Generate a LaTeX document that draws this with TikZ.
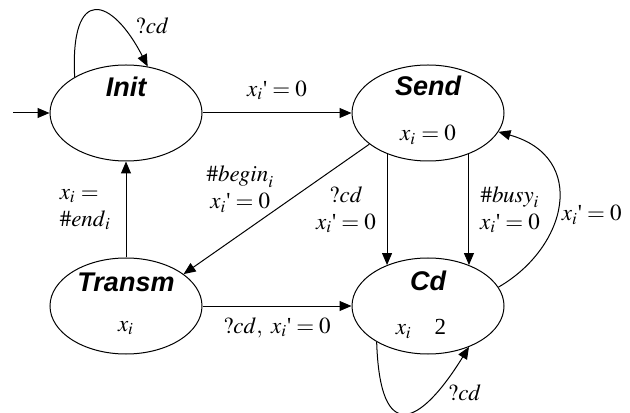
\documentclass[tikz,border=0pt]{standalone}
\usepackage{amsmath}
\usepackage{mathptmx}
\usepackage{fontspec}
\setmainfont{Liberation Serif}
\newfontfamily\locfont{Liberation Sans}
\usetikzlibrary{shapes.geometric, arrows.meta, positioning}

\newcommand{\xzero}{$x_i\text{\textquotesingle} = 0$}

\tikzset{
    loc/.style={draw, ellipse, line width=0.5pt, minimum width=76pt, minimum height=48pt, inner sep=0pt},
    locname/.style={font=\fontsize{13.5}{15}\locfont\bfseries\itshape},
    trans/.style={line width=0.5pt, -{Triangle[length=6pt, width=5pt]}},
}

\begin{document}
\begin{tikzpicture}[x=0.5pt, y=0.5pt, font=\fontsize{11.5}{13.5}\selectfont]
    \useasboundingbox (0,0) rectangle (630,412);

    % Locations
    \node[loc] (init) at (126,299) {};
    \node[loc] (send) at (428,299) {};
    \node[loc] (transm) at (126,106) {};
    \node[loc] (cd) at (428,106) {};

    % Names and invariants
    \node[locname] (init-name) at (126,325) {Init};
    \node[locname] (send-name) at (428,326) {Send};
    \node (send-inv) at (428,277) {$x_i = 0$};
    \node[locname] (transm-name) at (126,130) {Transm};
    \node (transm-inv) at (126,84) {$x_i$};
    \node[locname] (cd-name) at (428,131) {Cd};
    \node (cd-inv) at (421,83) {$x_i$\quad 2};

    % Transitions
    \coordinate (start) at (13,299);
    \draw[trans] (start) -- (init);
    \draw[trans] (init.145) .. controls (70,428) and (112,415) .. node[pos=0.75, right=4pt]{$?cd$} (init.65);
    \draw[trans] (init) -- node[above=3pt]{\xzero} (send);
    \draw[trans] (transm) -- node[left=4pt, align=left]{$x_i =$\\$\#\mathit{end}_i$} (init);
    \draw[trans] (send.208) -- node[left, inner sep=1pt, yshift=10pt, align=center]{$\#\mathit{begin}_i$\\\xzero} (transm.29);
    \draw[trans] (send.225) -- node[left=2pt, align=center]{$?cd$\\\xzero} (cd.135);
    \draw[trans] (send.315) -- node[right=2pt, align=center]{$\#\mathit{busy}_i$\\\xzero} (cd.45);
    \draw[trans] (cd.15) .. controls (568,165) and (588,255) .. node[pos=0.44, right, inner sep=2.5pt]{\xzero} (send.345);
    \draw[trans] (transm) -- node[below=2pt]{$?cd,\ x_i\text{\textquotesingle} = 0$} (cd);
    \draw[trans] (cd.215) .. controls (380,-34) and (420,-14) .. node[pos=0.8, right, yshift=-3pt]{$?cd$} (cd.315);
\end{tikzpicture}
\end{document}
